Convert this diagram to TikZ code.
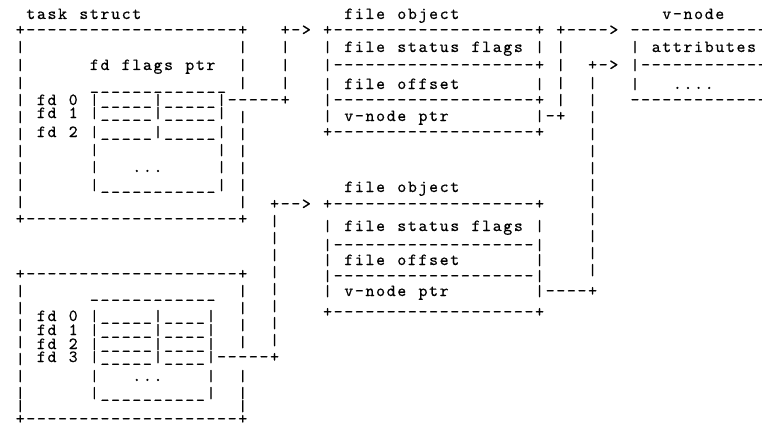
\documentclass[tikz,border=0pt]{standalone}
\usepackage{fontspec}
\newfontfamily\asctt{lmmono10-regular.otf}[FakeBold=0.5]
\newlength\pitchlen
\setlength\pitchlen{10.6pt}
\ExplSyntaxOn
\NewDocumentCommand\asc{m}
 {
  \str_map_inline:nn {#1}
   {
    \str_if_eq:nnTF {##1} {`}
     { \hbox_to_wd:nn {\pitchlen} { } }
     {
      \str_if_eq:nnTF {##1} {|}
       { \hbox_to_wd:nn {\pitchlen} { \hfil \fontsize{16}{16}\selectfont | \hfil } }
       { \hbox_to_wd:nn {\pitchlen} { \hfil ##1 \hfil } }
     }
   }
 }
\ExplSyntaxOff
\tikzset{asctext/.style={anchor=base west, inner sep=0pt, font=\fontsize{17}{17}\selectfont\asctt}}
\newcommand\A[4]{\node[asctext] (#1) at ({14.7+#2*10.6},#3) {\asc{#4}};}
\newcommand\Bars[3]{\foreach \yy in {#3} {\node[asctext] (#1-\yy) at ({14.7+#2*10.6},\yy) {\asc{|}};}}
\begin{document}
\begin{tikzpicture}[x=1pt,y=-1pt]
\fill[white] (0,0) rectangle (762,428);
\useasboundingbox (0,0) rectangle (762,428);
% titles
\A{ttask}{1}{19}{task struct}
\A{tfo1}{31}{19}{file object}
\A{tvn}{61}{19}{v-node}
% task box 1
\A{tb1top}{0}{35}{+--------------------+}
\Bars{tb1l}{0}{52,70,88,105,122,139,156,173,190,207}
\Bars{tb1r}{21}{52,70,88,122,139,156,173,190,207}
\A{tb1bot}{0}{224}{+--------------------+}
\A{fflags}{7}{70}{fd flags ptr}
\A{tab1top}{7}{90}{_____________}
\A{fd0a}{2}{105}{fd 0}
\A{row0a}{7}{105}{|_____|_____|-----+}
\A{fd1a}{2}{118}{fd 1}
\A{row1a}{7}{118}{|_____|_____|}
\A{fd2a}{2}{137}{fd 2}
\A{row2a}{7}{137}{|_____|_____|}
\Bars{tab1l}{7}{155}
\Bars{tab1r}{19}{155}
\A{dotsa}{7}{172}{|```...`````|}
\A{row4a}{7}{190}{|___________|}
% connector 1
\A{c1top}{25}{35}{+->}
\Bars{c1}{25}{52,70,88}
% file box 1
\A{fb1top}{29}{35}{+-------------------+}
\A{fb1r1}{29}{52}{| file status flags |}
\A{fb1d1}{29}{70}{|-------------------+}
\A{fb1r2}{29}{89}{| file offset```````|}
\A{fb1d2}{29}{105}{|-------------------+}
\A{fb1r3}{29}{121}{| v-node ptr````````|-+}
\A{fb1bot}{29}{137}{+-------------------+}
% connector 2
\A{c2top}{51}{35}{+---->}
\Bars{c2}{51}{52,70,88,105}
% v-node
\A{vntop}{58}{35}{-------------}
\A{vnr1}{58}{52}{| attributes}
\A{c3top}{54}{70}{+->}
\A{vnd1}{58}{70}{|------------}
\A{vnr2}{58}{89}{|```....}
\A{vnbot}{58}{105}{-------------}
% connector 3
\Bars{c3}{54}{88,105,122,139,156,173,190,207,224,241,258,275}
% file box 2
\A{tfo2}{31}{192}{file object}
\A{c4top}{24}{209}{+-->}
\A{fb2top}{29}{209}{+-------------------+}
\A{fb2r1}{29}{231}{| file status flags |}
\A{fb2d1}{29}{250}{|-------------------|}
\A{fb2r2}{29}{265}{| file offset```````|}
\A{fb2d2}{29}{281}{|-------------------|}
\A{fb2r3}{29}{296}{| v-node ptr````````|----+}
\A{fb2bot}{29}{317}{+-------------------+}
\Bars{c4}{24}{226,243,260,277,294,311,328,345}
% task box 2
\A{tb2top}{0}{279}{+--------------------+}
\Bars{tb2l}{0}{296,313,330,347,364,381,398,411}
\Bars{tb2r}{21}{296,313,330,347,381,398,411}
\A{tab2top}{7}{298}{____________}
\A{fd0b}{2}{321}{fd 0}
\A{row0b}{7}{321}{|_____|____|}
\A{fd1b}{2}{335}{fd 1}
\A{row1b}{7}{335}{|_____|____|}
\A{fd2b}{2}{349}{fd 2}
\A{row2b}{7}{349}{|_____|____|}
\A{fd3b}{2}{362}{fd 3}
\A{row3b}{7}{362}{|_____|____|-----+}
\A{dotsb}{7}{381}{|```...````|}
\A{row5b}{7}{398}{|__________|}
\A{tb2bot}{0}{424}{+--------------------+}
\end{tikzpicture}
\end{document}
